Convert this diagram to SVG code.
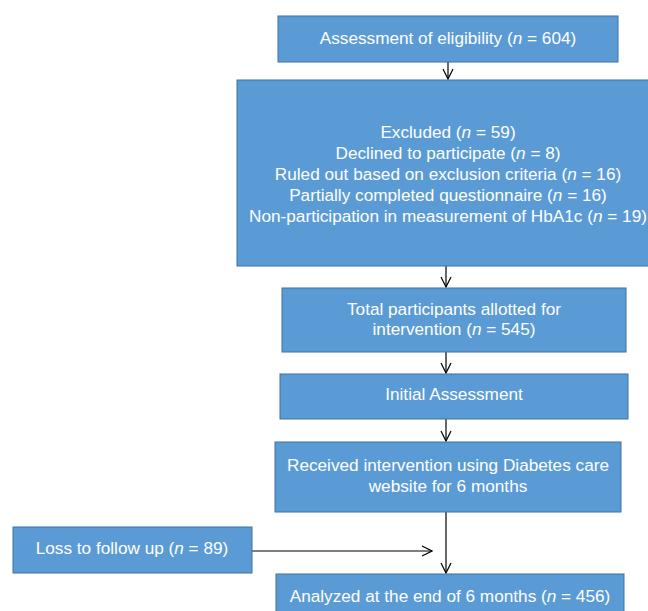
<svg xmlns="http://www.w3.org/2000/svg" width="648" height="611" viewBox="0 0 648 611">
<style>
.box{fill:#5B9BD5;stroke:#41719C;stroke-width:1}
.t{font-family:"Liberation Sans",Arial,sans-serif;font-size:17.2px;fill:#FFFFFF;text-anchor:middle}
.c{stroke:#000;stroke-width:1.2;fill:none}
</style>
<defs>
<marker id="ah" viewBox="0 0 12 12" refX="11" refY="6" markerWidth="12" markerHeight="12" markerUnits="userSpaceOnUse" orient="auto">
<path d="M1,1 L11,6 L1,11" fill="none" stroke="#000" stroke-width="1.2"/>
</marker>
</defs>
<rect width="648" height="611" fill="#FFFFFF"/>
<g id="connectors">
<line class="c" x1="448" y1="62" x2="448" y2="79" marker-end="url(#ah)"/>
<line class="c" x1="446" y1="266" x2="446" y2="287" marker-end="url(#ah)"/>
<line class="c" x1="446" y1="352" x2="446" y2="373" marker-end="url(#ah)"/>
<line class="c" x1="446" y1="419" x2="446" y2="441" marker-end="url(#ah)"/>
<line class="c" x1="446" y1="512" x2="446" y2="573" marker-end="url(#ah)"/>
<line class="c" x1="252" y1="551" x2="432" y2="551" marker-end="url(#ah)"/>
</g>
<g id="n1">
<rect class="box" x="278" y="16" width="340" height="46"/>
<text class="t" x="448" y="44">Assessment of eligibility (<tspan font-style="italic">n</tspan> = 604)</text>
</g>
<g id="n2">
<rect class="box" x="237" y="80" width="422" height="186"/>
<text class="t" x="448" y="138">Excluded (<tspan font-style="italic">n</tspan> = 59)</text>
<text class="t" x="448" y="159">Declined to participate (<tspan font-style="italic">n</tspan> = 8)</text>
<text class="t" x="448" y="180">Ruled out based on exclusion criteria (<tspan font-style="italic">n</tspan> = 16)</text>
<text class="t" x="448" y="201">Partially completed questionnaire (<tspan font-style="italic">n</tspan> = 16)</text>
<text class="t" x="448" y="222">Non-participation in measurement of HbA1c (<tspan font-style="italic">n</tspan> = 19)</text>
</g>
<g id="n3">
<rect class="box" x="282" y="288" width="344" height="64"/>
<text class="t" x="454" y="315">Total participants allotted for</text>
<text class="t" x="454" y="335">intervention (<tspan font-style="italic">n</tspan> = 545)</text>
</g>
<g id="n4">
<rect class="box" x="280" y="374" width="348" height="45"/>
<text class="t" x="454" y="400">Initial Assessment</text>
</g>
<g id="n5">
<rect class="box" x="275" y="442" width="346" height="70"/>
<text class="t" x="448" y="471">Received intervention using Diabetes care</text>
<text class="t" x="448" y="492">website for 6 months</text>
</g>
<g id="n6">
<rect class="box" x="13" y="527" width="239" height="46"/>
<text class="t" x="132" y="554">Loss to follow up (<tspan font-style="italic">n</tspan> = 89)</text>
</g>
<g id="n7">
<rect class="box" x="276" y="574" width="348" height="46"/>
<text class="t" x="450" y="602">Analyzed at the end of 6 months (<tspan font-style="italic">n</tspan> = 456)</text>
</g>
</svg>
